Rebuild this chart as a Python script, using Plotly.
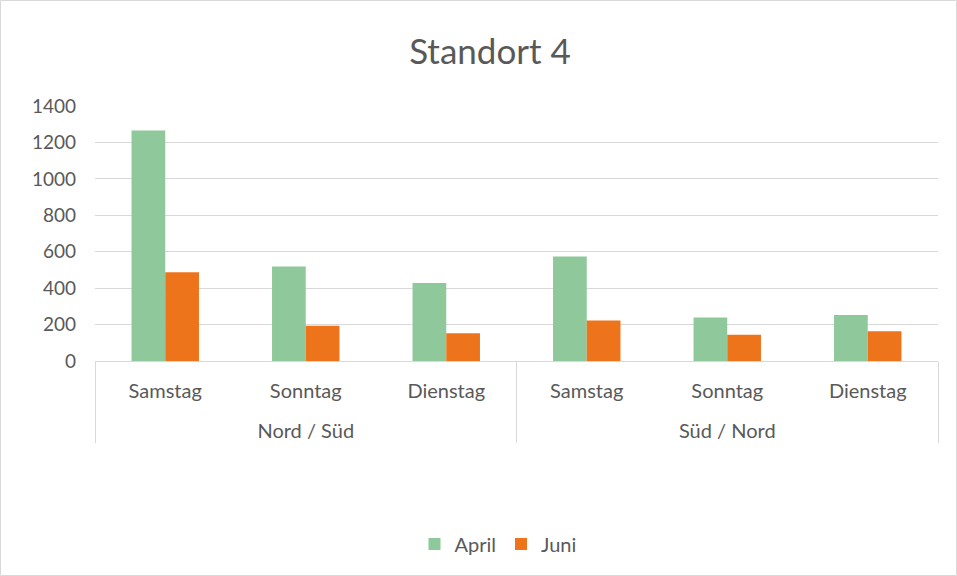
import plotly.graph_objects as go

groups = ["Nord / Süd", "Nord / Süd", "Nord / Süd", "Süd / Nord", "Süd / Nord", "Süd / Nord"]
days = ["Samstag", "Sonntag", "Dienstag", "Samstag", "Sonntag", "Dienstag"]
april = [1265, 519, 428, 574, 239, 253]
juni = [487, 193, 153, 222, 144, 164]

W, H = 957, 576
L, R, T, B = 95, 19, 106, 215
pw, ph = W - L - R, H - T - B

# empty first line pushes the group label down like in Excel
grp_lbl = ["<br>" + g for g in groups]

fig = go.Figure()
fig.add_bar(x=[grp_lbl, days], y=april, name="April", marker_color="#8fc89a",
            marker_line_width=0)
fig.add_bar(x=[grp_lbl, days], y=juni, name="Juni", marker_color="#ee741b",
            marker_line_width=0)

grey = "#595959"
fig.update_layout(
    width=W, height=H,
    margin=dict(l=L, r=R, t=T, b=B),
    paper_bgcolor="white", plot_bgcolor="white",
    font=dict(family="Lato, Open Sans, sans-serif", color=grey, size=20),
    title=dict(text="Standort 4", xref="paper", x=(490 - L) / pw, xanchor="center",
               y=1 - 52 / H, yanchor="middle", font=dict(size=35, color=grey)),
    barmode="group", bargap=0.52, bargroupgap=0,
    legend=dict(orientation="h", x=(498 - L) / pw, xanchor="center",
                y=-(544 - 361) / ph, yanchor="middle",
                font=dict(size=20, color=grey), itemwidth=30, tracegroupgap=0),
    showlegend=True,
)
fig.update_yaxes(range=[0, 1400], dtick=200, showgrid=True, gridcolor="#d9d9d9",
                 gridwidth=1, zeroline=False, showline=False, ticks="",
                 ticklabelstandoff=18, tickfont=dict(size=19, color=grey))
fig.update_xaxes(type="multicategory", showline=True, linecolor="#d9d9d9",
                 linewidth=1, ticks="", showdividers=True,
                 dividercolor="#d9d9d9", dividerwidth=1,
                 ticklabelstandoff=12,
                 tickfont=dict(size=20, color=grey))

# outer chart border
fig.add_shape(type="rect", xref="paper", yref="paper",
              x0=-L / pw + 0.0006, x1=1 + R / pw - 0.0006,
              y0=-B / ph + 0.002, y1=1 + T / ph - 0.002,
              line=dict(color="#d9d9d9", width=1), layer="below")

fig.write_html("out.html", config={"displayModeBar": False},
               post_script="document.body.style.margin='0';")
